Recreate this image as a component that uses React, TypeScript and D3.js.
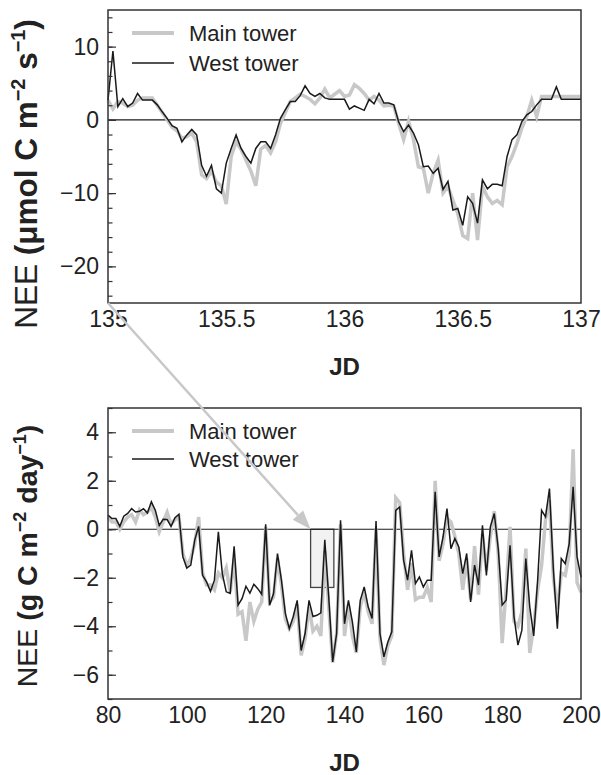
import React, { useEffect, useRef } from "react";
import * as d3 from "d3";

const W = 601;
const H = 775;
const FONT = "'Liberation Sans', Arial, Helvetica, sans-serif";
const GREY = "#c8c8c8";
const DARK = "#1a1a1a";

const seriesNames = ["Main tower", "West tower"];

// top panel: half-hourly NEE, JD 135 - 137
const hhMain = [
  2.7, 1.5, 2.5, 2.3, 1.8, 2.0, 2.7, 3.0, 3.0, 3.0, 2.0, 1.0, 0.0, -1.0, -1.5, -2.5,
  -2.3, -1.8, -3.0, -7.5, -8.0, -7.0, -8.5, -9.0, -11.5, -5.0, -3.0, -4.0, -5.5, -7.0, -9.0, -4.0,
  -3.5, -4.5, -3.0, -0.5, 1.0, 2.5, 3.0, 3.5, 3.2, 2.8, 2.2, 3.0, 4.2, 3.0, 3.5, 4.0,
  3.2, 3.4, 4.8, 4.3, 3.6, 2.7, 3.2, 2.7, 1.9, 2.0, 1.9, -0.5, -2.7, -0.2, -2.7, -6.4,
  -6.6, -10.0, -7.3, -5.5, -10.0, -9.1, -11.0, -12.8, -15.8, -16.2, -10.0, -16.4, -9.1, -10.5, -11.4, -11.0,
  -11.6, -6.4, -5.0, -3.2, -1.1, 0.45, 2.7, 0.45, 3.2, 3.2, 3.2, 3.2, 3.2, 3.2, 3.2, 3.2, 3.2,
];
const hhWest = [
  2.7, 9.4, 1.8, 2.9, 1.8, 2.3, 3.6, 2.7, 2.7, 2.7, 2.05, 1.1, 0.2, -0.8, -1.15, -3.0,
  -2.05, -1.3, -2.05, -6.2, -7.7, -6.2, -9.4, -10.0, -5.9, -3.9, -2.05, -3.9, -5.0, -5.9, -3.9, -3.0,
  -3.0, -3.9, -2.05, 0.2, 1.4, 2.5, 2.5, 3.3, 4.65, 3.6, 3.2, 3.6, 3.0, 2.8, 2.8, 2.8,
  2.8, 1.46, 1.9, 1.6, 1.3, 2.8, 2.2, 3.6, 2.3, 2.3, 2.05, -0.3, -1.6, -0.7, -1.8, -3.4,
  -6.4, -6.3, -7.3, -6.6, -9.5, -8.4, -12.3, -12.1, -14.4, -10.5, -11.4, -14.1, -8.2, -9.4, -8.8, -8.8,
  -9.0, -5.0, -2.7, -2.05, -0.23, 0.68, 1.14, 2.05, 2.8, 2.8, 2.8, 4.5, 2.8, 2.8, 2.8, 2.8, 2.8,
];
const hhTime = hhMain.map((_, i) => 135 + i / 48);

// bottom panel: daily NEE, JD 80 - 200
const days = d3.range(80, 201);
const dayMain = [
  0.5, 0.3, 0.3, 0.0, 0.3, 0.5, 0.6, 0.3, 0.8, 0.6, 0.7, 0.9, 0.5, -0.1, 0.3, 0.7, 0.2, 0.4, 0.5, -1.0,
  -1.5, -1.2, -0.6, 0.5, -1.8, -2.3, -2.3, -2.5, -1.8, -2.0, -1.6, -2.6, -1.2, -3.5, -3.4, -4.6, -3.0, -3.8, -3.3, -3.0,
  0.1, -3.0, -2.8, -1.2, -2.3, -3.7, -4.1, -3.8, -3.1, -5.2, -4.5, -3.2, -4.2, -4.0, -4.4, -0.9, -3.2, -5.5, -4.3, 0.2,
  -4.4, -3.1, -4.4, -5.1, -3.2, -2.6, -3.4, -3.9, 0.0, -4.5, -5.6, -4.8, -4.4, 1.3, 1.1, -1.0, -2.5, -1.4, -2.9, -2.8,
  -2.8, -2.4, -3.0, 2.0, -1.3, -0.6, 0.45, 0.3, -0.3, -1.0, -2.5, -1.2, -2.9, -0.7, -2.7, -0.2, -1.7, -0.3, 0.75, -1.0,
  -4.7, -2.5, 0.1, -3.8, -4.0, -3.4, -0.8, -5.1, -4.0, -2.5, -1.5, 0.4, 1.2, -2.0, -3.3, -1.8, -1.9, -1.0, 3.3, -2.2,
  -2.6,
];
const dayWest = [
  0.58, 0.44, 0.44, 0.12, 0.54, 0.65, 0.85, 0.71, 0.74, 0.85, 0.67, 1.13, 0.78, 0.16, 0.41, 0.4, 0.12, 0.48, 0.62, -1.14,
  -1.6, -1.48, -0.45, 0.12, -1.9, -2.17, -2.56, -2.1, -0.11, -1.83, -2.58, -2.65, -0.7, -3.13, -2.86, -2.35, -2.63, -2.27, -2.45, -2.68,
  0.2, -3.13, -2.65, -1.0, -2.1, -3.48, -4.1, -3.6, -2.93, -5.0, -4.3, -2.93, -3.6, -3.55, -3.45, -0.43, -2.8, -5.47, -4.3, 0.37,
  -3.9, -2.93, -3.82, -5.06, -2.93, -2.38, -3.2, -3.68, 0.34, -4.3, -5.26, -4.65, -4.23, 0.78, 0.92, -1.28, -2.1, -0.87, -2.24, -1.97,
  -2.38, -2.1, -2.1, 1.54, -1.14, -0.32, 0.85, -0.8, -0.38, -0.73, -1.83, -1.0, -3.0, -1.48, -2.3, 0.16, -1.9, 0.1, 0.65, -0.8,
  -3.13, -2.93, -0.66, -3.6, -4.78, -4.16, -1.21, -3.2, -4.4, -2.1, 0.78, 0.51, 1.68, -1.69, -4.1, -1.21, -1.42, -0.6, 1.75, -1.14,
  -1.97,
];

const topXTicks = [135, 135.5, 136, 136.5, 137];
const topYTicks = [-20, -10, 0, 10];
const topYMinor = d3.range(-24, 15, 2);
const botXTicks = [80, 100, 120, 140, 160, 180, 200];
const botYTicks = [-6, -4, -2, 0, 2, 4];
const botYMinor = d3.range(-7, 6, 1);

// zoom box: the 2-day window shown in the top panel
const zoomBox = { x0: 131.4, x1: 137.3, y0: -2.4, y1: 0 };

const LEFT = 108;
const RIGHT = 581;

function drawPanel(svg, o) {
  const x = d3.scaleLinear().domain(o.xDomain).range([LEFT, RIGHT]);
  const y = d3.scaleLinear().domain(o.yDomain).range([o.bottom, o.top]);
  const g = svg.append("g");

  if (o.box) {
    g.append("rect")
      .attr("x", x(o.box.x0)).attr("y", y(o.box.y1))
      .attr("width", x(o.box.x1) - x(o.box.x0))
      .attr("height", y(o.box.y0) - y(o.box.y1))
      .attr("fill", "#f2f2f2").attr("stroke", "#444").attr("stroke-width", 1.3);
  }

  g.append("line")
    .attr("x1", LEFT).attr("x2", RIGHT)
    .attr("y1", y(0)).attr("y2", y(0))
    .attr("stroke", DARK).attr("stroke-width", 1.2);

  const line = d3.line().x((d) => x(d[0])).y((d) => y(d[1]));
  g.append("path")
    .attr("d", line(o.xs.map((t, i) => [t, o.main[i]])))
    .attr("fill", "none").attr("stroke", GREY).attr("stroke-width", 3.5);
  g.append("path")
    .attr("d", line(o.xs.map((t, i) => [t, o.west[i]])))
    .attr("fill", "none").attr("stroke", DARK).attr("stroke-width", 1.5);

  // y axis, ticks inside
  const ya = g.append("g").attr("transform", `translate(${LEFT},0)`)
    .call(d3.axisLeft(y).tickValues(o.yTicks).tickSize(-8).tickPadding(9));
  g.append("g").attr("transform", `translate(${LEFT},0)`)
    .call(d3.axisLeft(y).tickValues(o.yMinor).tickSize(-4.5).tickFormat(() => ""))
    .call((s) => s.select(".domain").remove())
    .call((s) => s.selectAll("line").attr("stroke", "#333").attr("stroke-width", 1.2));
  const xa = g.append("g").attr("transform", `translate(0,${o.bottom})`)
    .call(d3.axisBottom(x).tickValues(o.xTicks).tickSize(0).tickPadding(8)
      .tickFormat((d) => String(d)));
  [ya, xa].forEach((a) => {
    a.select(".domain").remove();
    a.selectAll("line").attr("stroke", "#333").attr("stroke-width", 1.2);
    a.selectAll("text").attr("font-family", FONT).attr("font-size", 23).attr("fill", "#222");
  });

  g.append("rect")
    .attr("x", LEFT).attr("y", o.top)
    .attr("width", RIGHT - LEFT).attr("height", o.bottom - o.top)
    .attr("fill", "none").attr("stroke", "#333").attr("stroke-width", 1.5);

  // legend
  const lg = g.append("g");
  [GREY, DARK].forEach((c, i) => {
    const ly = o.legendY + i * o.legendGap;
    lg.append("line")
      .attr("x1", 132).attr("x2", 174).attr("y1", ly).attr("y2", ly)
      .attr("stroke", c).attr("stroke-width", i === 0 ? 4 : 1.5);
    lg.append("text")
      .attr("x", 189).attr("y", ly + 8)
      .attr("font-family", FONT).attr("font-size", 22).attr("fill", "#222")
      .text(seriesNames[i]);
  });

  // axis titles
  g.append("text")
    .attr("x", (LEFT + RIGHT) / 2).attr("y", o.bottom + 72)
    .attr("text-anchor", "middle").attr("font-family", FONT)
    .attr("font-size", 24).attr("font-weight", "bold").attr("fill", "#222")
    .text("JD");

  const fs = o.labelSize;
  const yt = g.append("text")
    .attr("transform", `translate(37,${o.labelY}) rotate(-90)`)
    .attr("text-anchor", "middle").attr("font-family", FONT)
    .attr("font-size", fs).attr("fill", "#222");
  o.label.forEach((p) => {
    const t = yt.append("tspan").text(p.t);
    if (p.b) t.attr("font-weight", "bold");
    if (p.sup) t.attr("font-size", fs * 0.63).attr("dy", -fs * 0.37);
    if (p.down) t.attr("dy", fs * 0.37);
  });

  return { x, y };
}

export default function App() {
  const ref = useRef(null);

  useEffect(() => {
    const svg = d3.select(ref.current);
    svg.selectAll("*").remove();

    const top = drawPanel(svg, {
      xs: hhTime, main: hhMain, west: hhWest,
      xDomain: [135, 137], yDomain: [-25, 15], top: 10, bottom: 303,
      xTicks: topXTicks, yTicks: topYTicks, yMinor: topYMinor,
      legendY: 33, legendGap: 30, labelY: 174, labelSize: 31.5,
      label: [
        { t: "NEE " },
        { t: "(\u03bcmol C m", b: true },
        { t: "\u22122", b: true, sup: true },
        { t: " s", b: true, down: true },
        { t: "\u22121", b: true, sup: true },
        { t: ")", b: true, down: true },
      ],
    });
    const bot = drawPanel(svg, {
      xs: days, main: dayMain, west: dayWest,
      xDomain: [80, 200], yDomain: [-7, 5], top: 408, bottom: 699,
      xTicks: botXTicks, yTicks: botYTicks, yMinor: botYMinor,
      legendY: 431, legendGap: 28, labelY: 556, labelSize: 28.5,
      box: zoomBox,
      label: [
        { t: "NEE " },
        { t: "(g C m", b: true },
        { t: "\u22122", b: true, sup: true },
        { t: " day", b: true, down: true },
        { t: "\u22121", b: true, sup: true },
        { t: ")", b: true, down: true },
      ],
    });

    // arrow from top panel corner to the zoom box
    const x0 = top.x(135), y0 = top.y(-25);
    const x1 = bot.x(zoomBox.x0), y1 = bot.y(zoomBox.y1);
    const len = Math.hypot(x1 - x0, y1 - y0);
    const ux = (x1 - x0) / len, uy = (y1 - y0) / len;
    const head = 19, half = 7;
    const bx = x1 - ux * head, by = y1 - uy * head;
    svg.append("line")
      .attr("x1", x0).attr("y1", y0).attr("x2", bx).attr("y2", by)
      .attr("stroke", GREY).attr("stroke-width", 2.5);
    svg.append("polygon")
      .attr("points", [
        [x1, y1],
        [bx - uy * half, by + ux * half],
        [bx + uy * half, by - ux * half],
      ].map((p) => p.join(",")).join(" "))
      .attr("fill", GREY);
  }, []);

  return (
    <svg ref={ref} width={W} height={H}
      style={{ position: "absolute", left: 0, top: 0, background: "#fff" }} />
  );
}
